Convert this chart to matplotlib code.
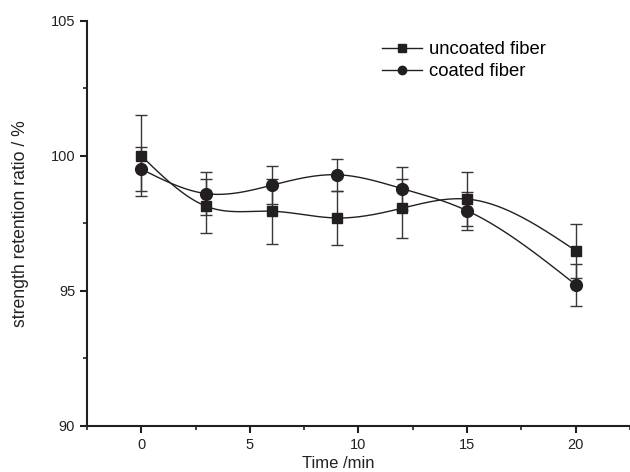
import numpy as np
import matplotlib
matplotlib.use("Agg")
import matplotlib.pyplot as plt
from matplotlib.ticker import MultipleLocator

plt.rcParams['font.family'] = ['Liberation Sans', 'DejaVu Sans']

time_min = [0, 3, 6, 9, 12, 15, 20]
uncoated = [100.0, 98.13, 97.95, 97.70, 98.06, 98.40, 96.49]
uncoated_err = [1.5, 1.0, 1.2, 1.0, 1.1, 1.0, 1.0]
coated = [99.51, 98.60, 98.91, 99.30, 98.79, 97.97, 95.23]
coated_err = [0.8, 0.8, 0.7, 0.6, 0.8, 0.7, 0.78]

COL = '#231f20'


def natural_spline(x, y, n=300):
    x = np.asarray(x, float)
    y = np.asarray(y, float)
    k = len(x)
    h = np.diff(x)
    A = np.zeros((k, k))
    b = np.zeros(k)
    A[0, 0] = 1
    A[-1, -1] = 1
    for i in range(1, k - 1):
        A[i, i - 1] = h[i - 1]
        A[i, i] = 2 * (h[i - 1] + h[i])
        A[i, i + 1] = h[i]
        b[i] = 3 * ((y[i + 1] - y[i]) / h[i] - (y[i] - y[i - 1]) / h[i - 1])
    c = np.linalg.solve(A, b)
    xs = np.linspace(x[0], x[-1], n)
    ys = np.empty_like(xs)
    for j, xv in enumerate(xs):
        i = min(np.searchsorted(x, xv, side='right') - 1, k - 2)
        dx = xv - x[i]
        bi = (y[i + 1] - y[i]) / h[i] - h[i] * (2 * c[i] + c[i + 1]) / 3
        di = (c[i + 1] - c[i]) / (3 * h[i])
        ys[j] = y[i] + bi * dx + c[i] * dx ** 2 + di * dx ** 3
    return xs, ys


fig = plt.figure(figsize=(6.3, 4.72), dpi=100)
ax = fig.add_axes([0.138, 0.0975, 0.862, 0.8585])

for vals, errs, mk, ms, lab in [
    (uncoated, uncoated_err, 's', 7.5, 'uncoated fiber'),
    (coated, coated_err, 'o', 8.5, 'coated fiber'),
]:
    xs, ys = natural_spline(time_min, vals)
    ax.plot(xs, ys, color=COL, lw=1.0, zorder=2)
    ax.errorbar(time_min, vals, yerr=errs, fmt='none', ecolor='#3a3536',
                elinewidth=1.0, capsize=4, capthick=1.0, zorder=1)
    ax.plot(time_min, vals, linestyle='none', marker=mk, ms=ms, color=COL,
            zorder=3)
    ax.plot([], [], color=COL, lw=1.0, marker=mk, ms=6, label=lab)

ax.set_xlim(-2.5, 22.5)
ax.set_ylim(90, 105)
ax.xaxis.set_major_locator(MultipleLocator(5))
ax.xaxis.set_minor_locator(MultipleLocator(2.5))
ax.yaxis.set_major_locator(MultipleLocator(5))
ax.yaxis.set_minor_locator(MultipleLocator(2.5))

for s in ['top', 'right']:
    ax.spines[s].set_visible(False)
for s in ['left', 'bottom']:
    ax.spines[s].set_linewidth(1.5)
    ax.spines[s].set_color(COL)

ax.tick_params(which='major', direction='out', length=5, width=1.5,
               colors=COL, labelsize=10.5, labelcolor='#222222')
ax.tick_params(which='minor', direction='out', length=3, width=1.2,
               colors=COL)

ax.set_xlabel('Time /min', fontsize=12, color='#222222')
ax.set_ylabel('strength retention ratio / %', fontsize=12.7, color='#222222')
ax.xaxis.set_label_coords((338 - 87) / (630 - 87), -0.075)
ax.yaxis.set_label_coords(-0.106, 0.5)

leg = ax.legend(loc='upper left', bbox_to_anchor=(0.543, 0.95), frameon=False,
                fontsize=13.3, handlelength=2.2, handletextpad=0.37,
                labelspacing=0.27, borderaxespad=0, borderpad=0)

fig.savefig('out.png', dpi=100)
